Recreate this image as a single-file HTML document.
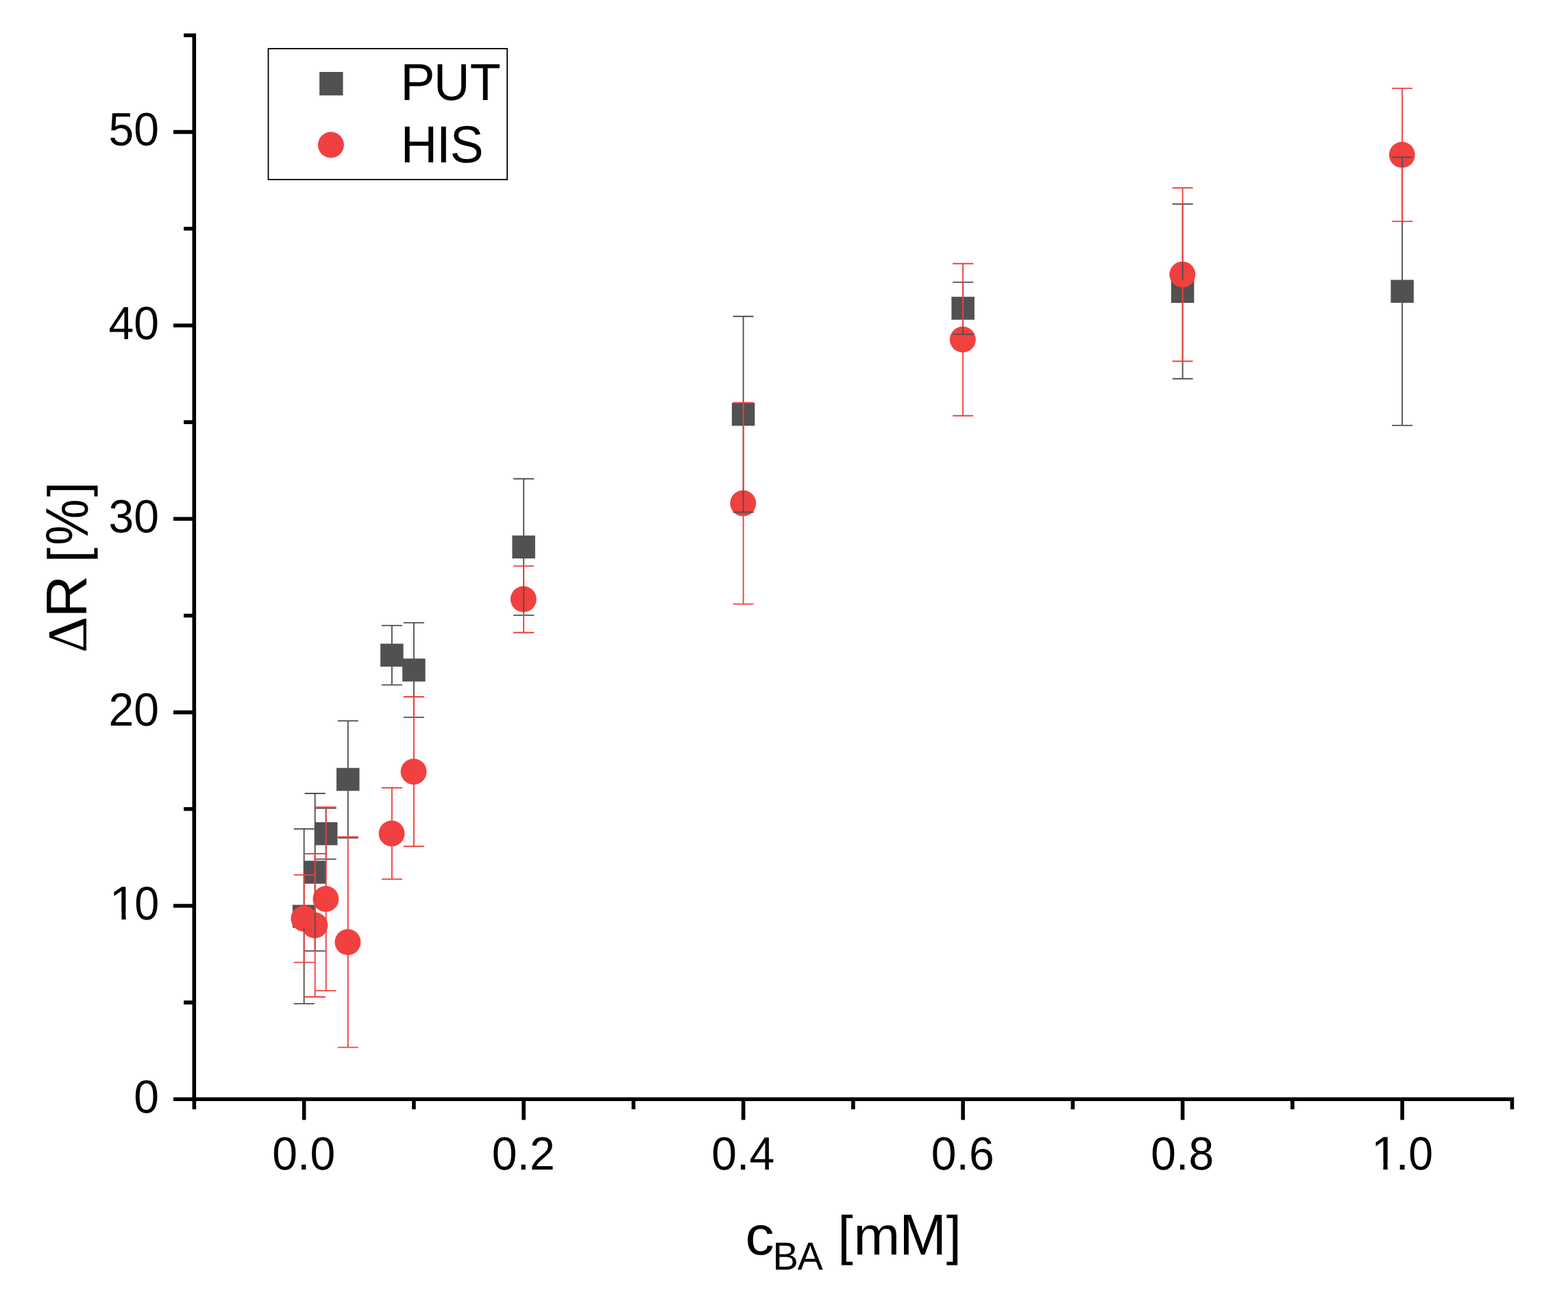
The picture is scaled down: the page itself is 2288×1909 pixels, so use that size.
<!DOCTYPE html>
<html lang="en"><head><meta charset="utf-8">
<style>html,body{margin:0;padding:0;background:#ffffff;}body{width:2288px;height:1909px;overflow:hidden;}svg{display:block;}text{font-family:"Liberation Sans",Arial,Helvetica,sans-serif;fill:#000;text-rendering:geometricPrecision;}</style>
</head><body>
<svg width="2288" height="1909" viewBox="0 0 2288 1909">
<defs><clipPath id="k1"><path clip-rule="evenodd" d="M120 1280H240V1360H120ZM163.2 1331.84H177.43V1345H163.2ZM183.6 1331.84H197.29V1345H183.6Z"/></clipPath><clipPath id="k2"><path clip-rule="evenodd" d="M1980 1645H2110V1725H1980ZM2004.14 1696.87H2018.51V1710H2004.14ZM2024.75 1696.87H2038.57V1710H2024.75Z"/></clipPath></defs>
<rect x="0" y="0" width="2288" height="1909" fill="#ffffff"/>
<g fill="#515151">
<rect x="426.9" y="1320.65" width="33.5" height="33.5"/>
<rect x="442.92" y="1256.25" width="33.5" height="33.5"/>
<rect x="458.95" y="1200.05" width="33.5" height="33.5"/>
<rect x="491" y="1120.75" width="33.5" height="33.5"/>
<rect x="555.1" y="939.45" width="33.5" height="33.5"/>
<rect x="587.15" y="961.15" width="33.5" height="33.5"/>
<rect x="747.4" y="781.55" width="33.5" height="33.5"/>
<rect x="1067.9" y="587.95" width="33.5" height="33.5"/>
<rect x="1388.4" y="433.15" width="33.5" height="33.5"/>
<rect x="1708.9" y="408.55" width="33.5" height="33.5"/>
<rect x="2029.4" y="408.45" width="33.5" height="33.5"/>
</g>
<g fill="#F14040">
<circle cx="443.35" cy="1340.7" r="18.95"/>
<circle cx="459.37" cy="1350.5" r="18.95"/>
<circle cx="475.4" cy="1311.9" r="18.95"/>
<circle cx="507.45" cy="1375" r="18.95"/>
<circle cx="571.55" cy="1216.4" r="18.95"/>
<circle cx="603.6" cy="1126.2" r="18.95"/>
<circle cx="763.85" cy="874.5" r="18.95"/>
<circle cx="1084.35" cy="734.5" r="18.95"/>
<circle cx="1404.85" cy="495.5" r="18.95"/>
<circle cx="1725.35" cy="400.6" r="18.95"/>
<circle cx="2045.85" cy="226" r="18.95"/>
</g>
<g stroke="#515151" stroke-width="1.9" fill="none">
<path d="M443.65 1209.8V1320.9M443.65 1353.9V1464.9M428.65 1209.8H458.65M428.65 1464.9H458.65M459.67 1158V1256.5M459.67 1289.5V1387.9M444.67 1158H474.67M444.67 1387.9H474.67M475.7 1179.6V1200.3M475.7 1233.3V1253.9M460.7 1179.6H490.7M460.7 1253.9H490.7M507.75 1052.1V1121M507.75 1154V1222.9M492.75 1052.1H522.75M492.75 1222.9H522.75M571.85 912.9V939.7M571.85 972.7V999.6M556.85 912.9H586.85M556.85 999.6H586.85M603.9 908.9V961.4M603.9 994.4V1046.9M588.9 908.9H618.9M588.9 1046.9H618.9M764.15 698.7V781.8M764.15 814.8V897.9M749.15 698.7H779.15M749.15 897.9H779.15M1084.65 461.8V588.2M1084.65 621.2V747.5M1069.65 461.8H1099.65M1069.65 747.5H1099.65M1405.15 411.9V433.4M1405.15 466.4V487.9M1390.15 411.9H1420.15M1390.15 487.9H1420.15M1725.65 297.8V408.8M1725.65 441.8V552.8M1710.65 297.8H1740.65M1710.65 552.8H1740.65M2046.15 229.5V408.7M2046.15 441.7V620.9M2031.15 229.5H2061.15M2031.15 620.9H2061.15"/>
</g>
<g stroke="#F14040" stroke-width="1.9" fill="none">
<path d="M443.65 1276.9V1322.7M443.65 1358.7V1404.6M428.65 1276.9H458.65M428.65 1404.6H458.65M459.67 1246V1332.5M459.67 1368.5V1455M444.67 1246H474.67M444.67 1455H474.67M475.7 1177.9V1293.9M475.7 1329.9V1445.9M460.7 1177.9H490.7M460.7 1445.9H490.7M507.75 1221.4V1357M507.75 1393V1528.6M492.75 1221.4H522.75M492.75 1528.6H522.75M571.85 1149.7V1198.4M571.85 1234.4V1283.1M556.85 1149.7H586.85M556.85 1283.1H586.85M603.9 1017V1108.2M603.9 1144.2V1235.3M588.9 1017H618.9M588.9 1235.3H618.9M764.15 826.1V856.5M764.15 892.5V923.3M749.15 826.1H779.15M749.15 923.3H779.15M1084.65 587.8V716.5M1084.65 752.5V881.6M1069.65 587.8H1099.65M1069.65 881.6H1099.65M1405.15 384.7V477.5M1405.15 513.5V606.7M1390.15 384.7H1420.15M1390.15 606.7H1420.15M1725.65 274.3V382.6M1725.65 418.6V527.2M1710.65 274.3H1740.65M1710.65 527.2H1740.65M2046.15 128.9V208M2046.15 244V323.1M2031.15 128.9H2061.15M2031.15 323.1H2061.15"/>
</g>
<g stroke="#000" stroke-width="5.6" fill="none" stroke-linecap="butt">
<path d="M283.3 48.63V1607.1M280.5 1604.3H2209.2M253 1604.3H283.3M268.15 1463.13H283.3M253 1321.96H283.3M268.15 1180.79H283.3M253 1039.62H283.3M268.15 898.45H283.3M253 757.28H283.3M268.15 616.11H283.3M253 474.94H283.3M268.15 333.77H283.3M253 192.6H283.3M268.15 51.43H283.3M283.4 1604.3V1618.9M443.65 1604.3V1634.6M603.9 1604.3V1618.9M764.15 1604.3V1634.6M924.4 1604.3V1618.9M1084.65 1604.3V1634.6M1244.9 1604.3V1618.9M1405.15 1604.3V1634.6M1565.4 1604.3V1618.9M1725.65 1604.3V1634.6M1885.9 1604.3V1618.9M2046.15 1604.3V1634.6M2206.4 1604.3V1618.9"/>
</g>
<g>
<text x="195.24" y="1624" font-size="68.08px" textLength="36.76" lengthAdjust="spacingAndGlyphs">0</text>
<text font-size="66.1px" clip-path="url(#k1)"><tspan x="159.89" y="1342" font-size="69.33px" textLength="38.8" lengthAdjust="spacingAndGlyphs">1</tspan><tspan x="196.27" y="1342" font-size="68.74px" textLength="36.01" lengthAdjust="spacingAndGlyphs">0</tspan></text>
<text x="158.48" y="1059" font-size="68.08px" textLength="73.52" lengthAdjust="spacingAndGlyphs">20</text>
<text x="158.48" y="777" font-size="68.08px" textLength="73.52" lengthAdjust="spacingAndGlyphs">30</text>
<text x="158.48" y="495" font-size="68.08px" textLength="73.52" lengthAdjust="spacingAndGlyphs">40</text>
<text x="158.48" y="212" font-size="68.08px" textLength="73.52" lengthAdjust="spacingAndGlyphs">50</text>
<text x="397.31" y="1707" font-size="68.08px" textLength="91.89" lengthAdjust="spacingAndGlyphs">0.0</text>
<text x="717.81" y="1707" font-size="68.08px" textLength="91.89" lengthAdjust="spacingAndGlyphs">0.2</text>
<text x="1038.31" y="1707" font-size="68.08px" textLength="91.89" lengthAdjust="spacingAndGlyphs">0.4</text>
<text x="1358.81" y="1707" font-size="68.08px" textLength="91.89" lengthAdjust="spacingAndGlyphs">0.6</text>
<text x="1679.31" y="1707" font-size="68.08px" textLength="91.89" lengthAdjust="spacingAndGlyphs">0.8</text>
<text font-size="66.1px" clip-path="url(#k2)"><tspan x="2000.76" y="1707" font-size="69.19px" textLength="39.26" lengthAdjust="spacingAndGlyphs">1</tspan><tspan x="2036.38" y="1707" font-size="65.46px" textLength="19.84" lengthAdjust="spacingAndGlyphs">.</tspan><tspan x="2055.34" y="1707" font-size="68.31px" textLength="35.83" lengthAdjust="spacingAndGlyphs">0</tspan></text>
</g>
<text transform="translate(126 1000) rotate(-90)" font-size="80.9px"><tspan x="47.27" y="0" font-size="81.95px" font-family="Liberation Serif,serif" textLength="52.93" lengthAdjust="spacingAndGlyphs">Δ</tspan><tspan x="98.42" y="0" font-size="84.01px" textLength="61.85" lengthAdjust="spacingAndGlyphs">R</tspan> <tspan x="179" y="0" font-size="79.57px" textLength="21.81" lengthAdjust="spacingAndGlyphs">[</tspan><tspan x="204.2" y="2" font-size="87.91px" textLength="67.3" lengthAdjust="spacingAndGlyphs">%</tspan><tspan x="274.88" y="0" font-size="79.57px" textLength="22.02" lengthAdjust="spacingAndGlyphs">]</tspan></text>
<text font-size="80.9px"><tspan x="1087.51" y="1831" font-size="80.11px" textLength="42.21" lengthAdjust="spacingAndGlyphs">c</tspan><tspan x="1127.39" y="1853" font-size="57.12px" textLength="37.47" lengthAdjust="spacingAndGlyphs">B</tspan><tspan x="1163.79" y="1853" font-size="57.12px" textLength="37.02" lengthAdjust="spacingAndGlyphs">A</tspan> <tspan x="1222.32" y="1830" font-size="79px" textLength="22.51" lengthAdjust="spacingAndGlyphs">[</tspan><tspan x="1245.6" y="1831" font-size="79.54px" textLength="67.76" lengthAdjust="spacingAndGlyphs">m</tspan><tspan x="1312.13" y="1831" font-size="84.45px" textLength="68.74" lengthAdjust="spacingAndGlyphs">M</tspan><tspan x="1380.68" y="1830" font-size="79px" textLength="22.09" lengthAdjust="spacingAndGlyphs">]</tspan></text>
<rect x="391.5" y="71" width="348.6" height="191.1" fill="none" stroke="#000" stroke-width="1.8"/>
<rect x="466.15" y="105" width="34.35" height="34.25" fill="#515151"/>
<circle cx="482.9" cy="211.45" r="19" fill="#F14040"/>
<text font-size="73px"><tspan x="584.3" y="146" font-size="76.02px" textLength="50.38" lengthAdjust="spacingAndGlyphs">P</tspan><tspan x="632.89" y="146" font-size="76.03px" textLength="52.52" lengthAdjust="spacingAndGlyphs">U</tspan><tspan x="685.75" y="146" font-size="76.02px" textLength="44.94" lengthAdjust="spacingAndGlyphs">T</tspan></text>
<text font-size="73px"><tspan x="584.63" y="237" font-size="76.02px" textLength="53.39" lengthAdjust="spacingAndGlyphs">H</tspan><tspan x="636.87" y="237" font-size="76.02px" textLength="21" lengthAdjust="spacingAndGlyphs">I</tspan><tspan x="656.68" y="237" font-size="76.34px" textLength="48.78" lengthAdjust="spacingAndGlyphs">S</tspan></text>
</svg>
</body></html>
